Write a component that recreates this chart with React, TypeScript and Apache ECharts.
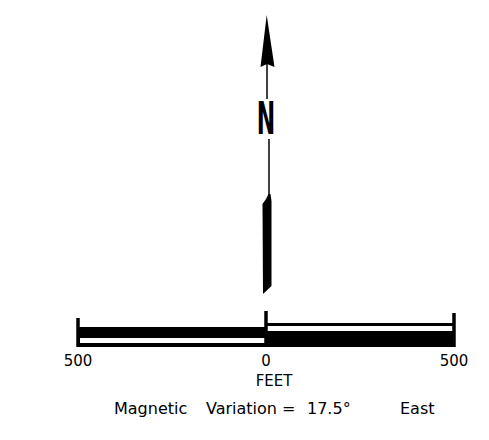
import React, { useEffect, useRef } from "react";
import * as echarts from "echarts";

// Scale bar data (feet)
const segmentStarts = [-500, 0];
const segmentEnds = [0, 500];
const tickValues = [-500, 0, 500];
const axisMin = -500;
const axisMax = 500;
const axisStep = 500;
const unitLabel = "FEET";
const northLabel = "N";
const noteWords = ["Magnetic", "Variation =", "17.5°", "East"];

const FONT = "DejaVu Sans";
const INK = "#000";

export default function App() {
  const ref = useRef<HTMLDivElement>(null);

  useEffect(() => {
    if (!ref.current) return;
    const chart = echarts.init(ref.current, undefined, { renderer: "svg" });

    const tickHeights = [29, 36, 34];
    const noteX = [114, 206, 307, 400];

    chart.setOption({
      animation: false,
      backgroundColor: "#fff",
      grid: { left: 78, width: 376, top: 311, height: 36 },
      xAxis: {
        type: "value",
        min: axisMin,
        max: axisMax,
        interval: axisStep,
        axisLine: { show: false },
        axisTick: { show: false },
        splitLine: { show: false },
        axisLabel: {
          margin: 6,
          color: INK,
          fontFamily: FONT,
          fontSize: 15,
          formatter: (v: number) => String(Math.abs(v)),
        },
        name: unitLabel,
        nameLocation: "middle",
        nameGap: 26,
        nameTextStyle: { color: INK, fontFamily: FONT, fontSize: 15, padding: [0, 0, 0, 16] },
      },
      yAxis: { type: "value", min: 0, max: 1, show: false },
      series: [
        {
          type: "custom",
          data: segmentStarts.map((s, i) => [s, segmentEnds[i]]),
          encode: { x: [0, 1] },
          renderItem: (params: any, api: any) => {
            const i = params.dataIndex;
            const xa = api.coord([api.value(0), 0])[0];
            const xb = api.coord([api.value(1), 0])[0];
            const cs = params.coordSys;
            const B = cs.y + cs.height;
            if (i === 0) {
              return {
                type: "group",
                children: [
                  { type: "rect", shape: { x: xa, y: B - 20, width: xb - xa, height: 20 }, style: { fill: INK } },
                  { type: "rect", shape: { x: xa + 2, y: B - 9, width: xb - xa - 3, height: 5 }, style: { fill: "#fff" } },
                ],
              };
            }
            return {
              type: "group",
              children: [
                { type: "rect", shape: { x: xa, y: B - 24, width: xb - xa, height: 24 }, style: { fill: INK } },
                { type: "rect", shape: { x: xa + 1, y: B - 21, width: xb - xa - 2, height: 5 }, style: { fill: "#fff" } },
              ],
            };
          },
        },
        {
          type: "custom",
          data: tickValues.map((v) => [v]),
          encode: { x: 0 },
          renderItem: (params: any, api: any) => {
            const i = params.dataIndex;
            const x = api.coord([api.value(0), 0])[0];
            const cs = params.coordSys;
            const B = cs.y + cs.height;
            return {
              type: "line",
              shape: { x1: x, y1: B - tickHeights[i], x2: x, y2: B },
              style: { stroke: INK, lineWidth: 3.5 },
            };
          },
        },
      ],
      graphic: [
        {
          type: "polygon",
          shape: { points: [[266.7, 15], [274.5, 67], [267, 64], [260.5, 67]] },
          style: { fill: INK },
        },
        {
          type: "line",
          shape: { x1: 267, y1: 64, x2: 267, y2: 99 },
          style: { stroke: INK, lineWidth: 1.5 },
        },
        {
          type: "text",
          x: 266,
          y: 119,
          scaleX: 0.5,
          style: {
            text: northLabel,
            fill: INK,
            fontFamily: FONT,
            fontWeight: "bold",
            fontSize: 44,
            align: "center",
            verticalAlign: "middle",
          },
        },
        {
          type: "line",
          shape: { x1: 269, y1: 139, x2: 269, y2: 198 },
          style: { stroke: INK, lineWidth: 1.5 },
        },
        {
          type: "polygon",
          shape: {
            points: [[268.5, 194], [270.5, 194], [271.5, 201], [271.5, 286], [263, 294], [262.5, 204], [266, 199]],
          },
          style: { fill: INK },
        },
        ...noteWords.map((w, i) => ({
          type: "text",
          x: noteX[i],
          y: 400,
          style: {
            text: w,
            fill: INK,
            fontFamily: FONT,
            fontSize: 16,
            verticalAlign: "top",
          },
        })),
      ],
    });

    return () => chart.dispose();
  }, []);

  return (
    <div
      ref={ref}
      style={{ position: "fixed", left: 0, top: 0, width: 489, height: 440, background: "#fff" }}
    />
  );
}
